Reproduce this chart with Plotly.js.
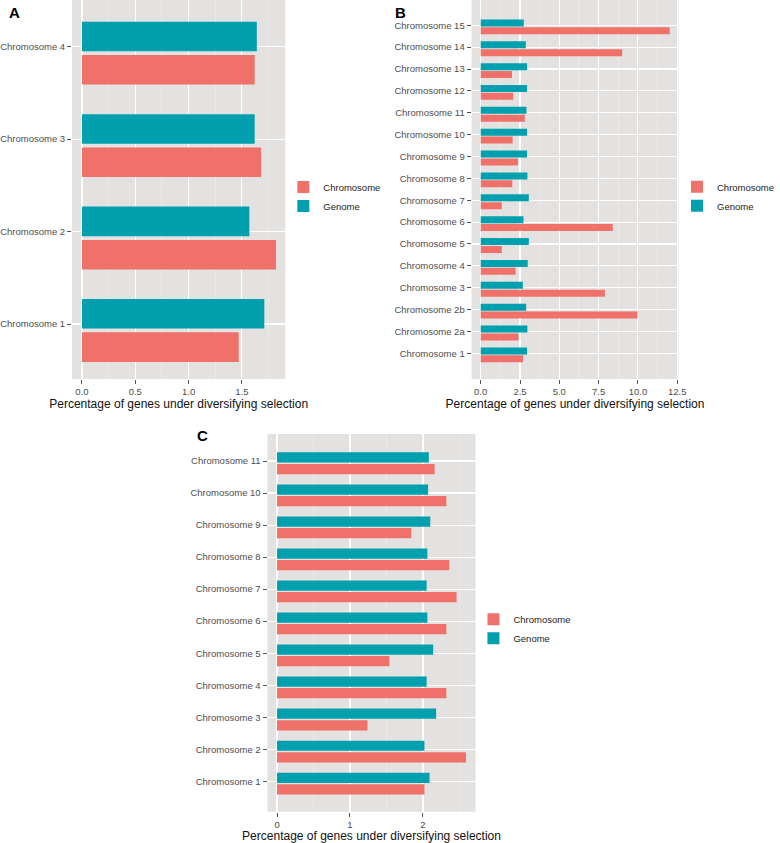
<!DOCTYPE html>
<html>
<head>
<meta charset="utf-8">
<script src="https://cdn.plot.ly/plotly-3.0.1.min.js"></script>
<style>
  html, body { margin: 0; padding: 0; background: #ffffff; }
  #chart { width: 780px; height: 843px; }
</style>
</head>
<body>
<div id="chart"></div>
<script>
// panel A
var labelsA = ['Chromosome 1', 'Chromosome 2', 'Chromosome 3', 'Chromosome 4'];
var chromosomeA = [1.47, 1.82, 1.68, 1.62];
var genomeA = [1.71, 1.57, 1.62, 1.64];

// panel B
var labelsB = ['Chromosome 1', 'Chromosome 2a', 'Chromosome 2b', 'Chromosome 3', 'Chromosome 4',
    'Chromosome 5', 'Chromosome 6', 'Chromosome 7', 'Chromosome 8', 'Chromosome 9', 'Chromosome 10',
    'Chromosome 11', 'Chromosome 12', 'Chromosome 13', 'Chromosome 14', 'Chromosome 15'];
var chromosomeB = [2.70, 2.41, 9.97, 7.90, 2.22, 1.34, 8.40, 1.34, 2.01, 2.37, 2.03, 2.81, 2.07, 1.99, 9.00, 12.02];
var genomeB = [2.95, 2.97, 2.89, 2.68, 2.99, 3.06, 2.72, 3.06, 2.97, 2.95, 2.95, 2.91, 2.95, 2.95, 2.87, 2.74];

// panel C
var labelsC = ['Chromosome 1', 'Chromosome 2', 'Chromosome 3', 'Chromosome 4', 'Chromosome 5',
    'Chromosome 6', 'Chromosome 7', 'Chromosome 8', 'Chromosome 9', 'Chromosome 10', 'Chromosome 11'];
var chromosomeC = [2.02, 2.59, 1.24, 2.32, 1.54, 2.32, 2.46, 2.36, 1.84, 2.32, 2.16];
var genomeC = [2.09, 2.02, 2.18, 2.05, 2.14, 2.06, 2.05, 2.06, 2.10, 2.07, 2.08];

var seriesNames = ['Chromosome', 'Genome'];
var xTitle = 'Percentage of genes under diversifying selection';

var red = '#f0706a';
var teal = '#00a0ae';
var font = 'Liberation Sans, Arial, Helvetica, sans-serif';

function barTrace(name, labels, values, suffix, color, offset) {
    return {
        type: 'bar', orientation: 'h', name: name,
        y: labels, x: values,
        xaxis: 'x' + suffix, yaxis: 'y' + suffix,
        legend: 'legend' + suffix,
        width: 0.32, offset: offset,
        marker: { color: color, line: { width: 0 } }
    };
}

var data = [
    barTrace(seriesNames[0], labelsA, chromosomeA, '', red, -0.41),
    barTrace(seriesNames[1], labelsA, genomeA, '', teal, -0.05),
    barTrace(seriesNames[0], labelsB, chromosomeB, '2', red, -0.41),
    barTrace(seriesNames[1], labelsB, genomeB, '2', teal, -0.05),
    barTrace(seriesNames[0], labelsC, chromosomeC, '3', red, -0.41),
    barTrace(seriesNames[1], labelsC, genomeC, '3', teal, -0.05)
];

function xAxis(domain, range, dtick, fmt, anchor) {
    return {
        domain: domain, range: range, anchor: anchor,
        tickmode: 'linear', tick0: 0, dtick: dtick, tickformat: fmt,
        showgrid: true, gridcolor: '#ffffff', gridwidth: 1.1,
        minor: { dtick: dtick / 2, tick0: 0, showgrid: true, gridcolor: '#f1efef', gridwidth: 0.6, ticklen: 0 },
        zeroline: false, showline: false,
        ticks: 'outside', ticklen: 4, tickcolor: '#555555', tickwidth: 1,
        tickfont: { family: font, size: 9.5, color: '#4d4d4d' },
        title: { text: xTitle, font: { family: font, size: 12, color: '#111111' }, standoff: 2 },
        automargin: false, fixedrange: true
    };
}

function yAxis(domain, range, anchor) {
    return {
        domain: domain, range: range, anchor: anchor, type: 'category',
        showgrid: true, gridcolor: '#ffffff', gridwidth: 1.1,
        zeroline: false, showline: false,
        ticks: 'outside', ticklen: 4, tickcolor: '#555555', tickwidth: 1,
        tickfont: { family: font, size: 9.5, color: '#4d4d4d' },
        automargin: false, fixedrange: true
    };
}

function legendBox(x, y) {
    return {
        x: x, y: y, xanchor: 'left', yanchor: 'middle',
        bgcolor: 'rgba(0,0,0,0)', borderwidth: 0,
        font: { family: font, size: 9.5, color: '#222222' }
    };
}

function panelLetter(text, x, y) {
    return {
        text: '<b>' + text + '</b>', xref: 'paper', yref: 'paper',
        x: x, y: y, xanchor: 'center', yanchor: 'middle', showarrow: false,
        font: { family: font, size: 15, color: '#000000' }
    };
}

var W = 780, H = 843;

var layout = {
    width: W, height: H,
    margin: { l: 0, r: 0, t: 0, b: 0 },
    paper_bgcolor: '#ffffff',
    plot_bgcolor: '#e4e1e1',
    barmode: 'overlay',
    xaxis: xAxis([73 / W, 289 / W], [-0.093, 1.907], 0.5, '.1f', 'y'),
    yaxis: yAxis([1 - 379 / H, 1], [-0.595, 3.505], 'x'),
    xaxis2: xAxis([477.7 / W, 687.3 / W], [-0.58, 12.58], 2.5, '.1f', 'y2'),
    yaxis2: yAxis([1 - 379 / H, 1], [-1.175, 16.157], 'x2'),
    xaxis3: xAxis([271 / W, 481.7 / W], [-0.13, 2.72], 1, 'd', 'y3'),
    yaxis3: yAxis([1 - 811.7 / H, 1 - 434 / H], [-0.949, 10.843], 'x3'),
    legend: legendBox(287 / W, 1 - 196.5 / H),
    legend2: legendBox(686 / W, 1 - 196.3 / H),
    legend3: legendBox(479.6 / W, 1 - 628.7 / H),
    annotations: [
        panelLetter('A', 14.5 / W, 1 - 12.5 / H),
        panelLetter('B', 405.5 / W, 1 - 12.5 / H),
        panelLetter('C', 205 / W, 1 - 435 / H)
    ],
    showlegend: true
};

Plotly.newPlot('chart', data, layout, { displayModeBar: false, staticPlot: true });
</script>
</body>
</html>
